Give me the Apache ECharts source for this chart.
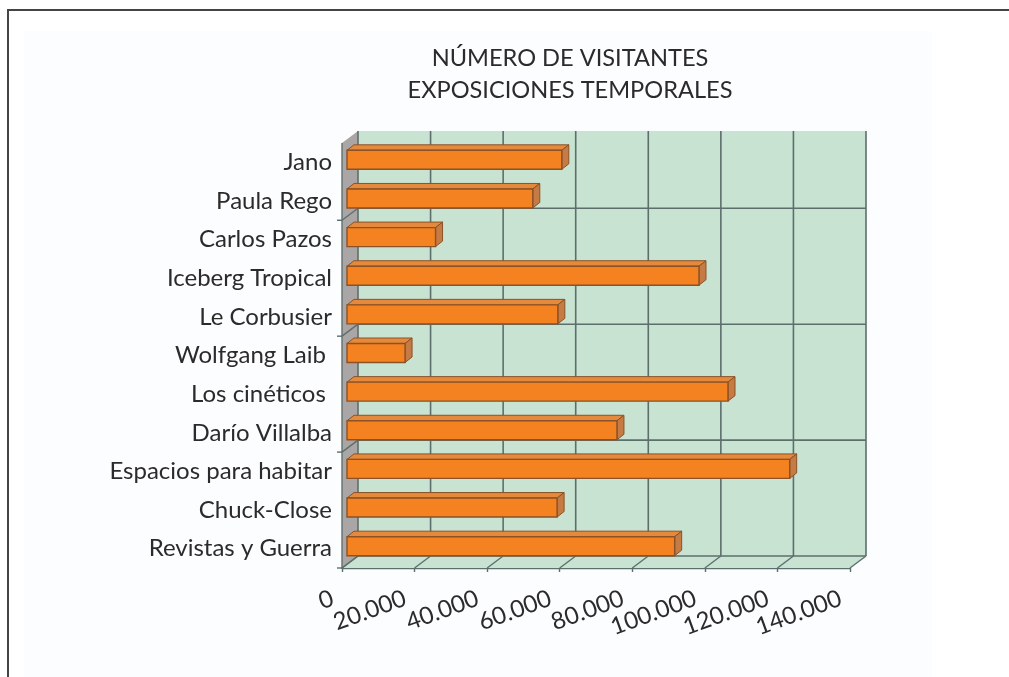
<!DOCTYPE html>
<html><head><meta charset="utf-8">
<style>html,body{margin:0;padding:0;background:#fff}#c{width:1009px;height:677px}</style>
<script src="https://cdn.jsdelivr.net/npm/echarts@6/dist/echarts.min.js"></script>
</head><body><div id="c"></div>
<script>
const categories = ['Revistas y Guerra','Chuck-Close','Espacios para habitar','Darío Villalba','Los cinéticos ','Wolfgang Laib ','Le Corbusier','Iceberg Tropical','Carlos Pazos','Paula Rego','Jano'];
const visitors = [90300,57900,122000,74400,105000,16000,58100,97000,24400,51200,59200];
const xTicks = [0,20000,40000,60000,80000,100000,120000,140000];
const rowLineIndexes = [0,3,6,9];
const titleLines = ['NÚMERO DE VISITANTES','EXPOSICIONES TEMPORALES'];

const FONT = 'Lato';
const BACK = [16,-12], BAR_FRONT = [5,-2.5], BAR_DEPTH = [7,-5.5], BAR_H = 19;
const LINE = '#5d6f6d';
const shift = (p,d) => [p[0]+d[0], p[1]+d[1]];
const poly = (pts,fill,stroke,lw) => ({type:'polygon',shape:{points:pts},style:{fill,stroke:stroke||null,lineWidth:lw||0}});
const seg = (a,b,c,w) => ({type:'line',shape:{x1:a[0],y1:a[1],x2:b[0],y2:b[1]},style:{stroke:c,lineWidth:w,fill:null}});

function renderRoom(params, api){
  const xmax = xTicks[xTicks.length-1], band = api.size([0,1])[1];
  const n = categories.length;
  const bl = api.coord([0,0]); bl[1] += band/2;
  const br = [api.coord([xmax,0])[0], bl[1]];
  const tl = [bl[0], api.coord([0,n-1])[1]-band/2];
  const tr = [br[0], tl[1]];
  const kids = [
    poly([shift(bl,BACK),shift(br,BACK),shift(tr,BACK),shift(tl,BACK)],'#c8e3d2'),
    poly([bl,br,shift(br,BACK),shift(bl,BACK)],'#c8e3d2'),
    poly([bl,shift(bl,BACK),shift(tl,BACK),tl],'#aaa6a6')
  ];
  xTicks.forEach(v=>{
    const p=[api.coord([v,0])[0],bl[1]];
    kids.push(seg(shift(p,BACK),shift([p[0],tl[1]],BACK),LINE,1.6));
    kids.push(seg(p,shift(p,BACK),LINE,1.4));
  });
  rowLineIndexes.forEach(i=>{
    const p=[bl[0],api.coord([0,i])[1]+band/2];
    kids.push(seg(shift(p,BACK),shift([br[0],p[1]],BACK),LINE,1.6));
    kids.push(seg(p,shift(p,BACK),LINE,1.4));
    kids.push(seg(p,[p[0]-5,p[1]],LINE,1.4));
  });
  kids.push(seg(bl,tl,LINE,1.4));
  return {type:'group',children:kids};
}
function renderBar(params, api){
  const i=api.value(1);
  const a=shift(api.coord([0,i]),BAR_FRONT), b=shift(api.coord([api.value(0),i]),BAR_FRONT);
  const t=a[1]-BAR_H/2, u=a[1]+BAR_H/2, edge='#8a5226';
  const L=a[0], R=b[0];
  return {type:'group',children:[
    poly([[L,t],[R,t],shift([R,t],BAR_DEPTH),shift([L,t],BAR_DEPTH)],'#e58a3c',edge,1),
    poly([[R,t],[R,u],shift([R,u],BAR_DEPTH),shift([R,t],BAR_DEPTH)],'#c67a44',edge,1),
    poly([[L,t],[R,t],[R,u],[L,u]],'#f58220',edge,1.4)
  ]};
}
const chart = echarts.init(document.getElementById('c'),null,{renderer:'canvas'});
chart.setOption({
  animation:false,
  backgroundColor:'#ffffff',
  graphic:[
    {type:'rect',silent:true,z:-10,shape:{x:24,y:31,width:908,height:646},style:{fill:'#fcfdfe'}},
    {type:'rect',silent:true,z:-9,shape:{x:7,y:9,width:1002,height:2},style:{fill:'#444'}},
    {type:'rect',silent:true,z:-9,shape:{x:7,y:9,width:2,height:668},style:{fill:'#444'}}
  ],
  title:{text:titleLines.join('\n'),left:565,top:37,textAlign:'center',
    textStyle:{fontFamily:FONT,fontSize:23.6,fontWeight:'normal',color:'#2b2b2b',lineHeight:32}},
  grid:{left:342,top:143,width:508,height:425},
  xAxis:{type:'value',min:0,max:140000,interval:20000,
    axisLine:{show:true,lineStyle:{color:LINE,width:1.4}},
    axisTick:{show:true,length:4,lineStyle:{color:LINE,width:1.4}},
    splitLine:{show:false},
    axisLabel:{rotate:20,margin:26,padding:[0,10,0,0],fontFamily:FONT,fontSize:24,color:'#2b2b2b',
      formatter:v=>String(v).replace(/\B(?=(\d{3})+$)/g,'.')}},
  yAxis:{type:'category',data:categories,
    axisLine:{show:false},
    axisTick:{show:false},
    splitLine:{show:false},
    axisLabel:{interval:0,margin:10,padding:[8,0,0,0],fontFamily:FONT,fontSize:24,color:'#2b2b2b'}},
  series:[
    {type:'custom',clip:false,z:1,renderItem:renderRoom,data:[[0,0]],encode:{x:0,y:1},silent:true},
    {type:'custom',clip:false,z:2,renderItem:renderBar,data:visitors.map((v,i)=>[v,i]),encode:{x:0,y:1},silent:true}
  ]
});
</script></body></html>
